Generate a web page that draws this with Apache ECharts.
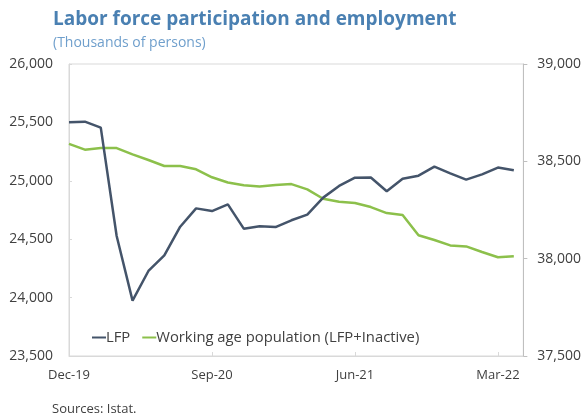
<!DOCTYPE html>
<html>
<head>
<meta charset="utf-8">
<script src="https://cdn.jsdelivr.net/npm/echarts@6/dist/echarts.min.js"></script>
<style>
  html, body { margin: 0; padding: 0; background: #ffffff; }
  #chart { width: 584px; height: 418px; }
</style>
</head>
<body>
<div id="chart"></div>
<script>
// Monthly observations, Dec-19 .. Apr-22
const months = [
  'Dec-19', 'Jan-20', 'Feb-20', 'Mar-20', 'Apr-20', 'May-20', 'Jun-20', 'Jul-20', 'Aug-20',
  'Sep-20', 'Oct-20', 'Nov-20', 'Dec-20', 'Jan-21', 'Feb-21', 'Mar-21', 'Apr-21', 'May-21',
  'Jun-21', 'Jul-21', 'Aug-21', 'Sep-21', 'Oct-21', 'Nov-21', 'Dec-21', 'Jan-22', 'Feb-22',
  'Mar-22', 'Apr-22'
];

// Labour force (left axis, thousands)
const lfp = [
  25501, 25506, 25455, 24527, 23974, 24228, 24362, 24607, 24764,
  24741, 24798, 24590, 24610, 24604, 24662, 24710, 24856, 24956,
  25027, 25028, 24910, 25018, 25044, 25121, 25064, 25010, 25055,
  25113, 25090
];

// Working age population, LFP + inactive (right axis, thousands)
const workingAge = [
  38590, 38560, 38568, 38568, 38536, 38507, 38476, 38476, 38459,
  38418, 38391, 38377, 38371, 38378, 38383, 38356, 38308, 38292,
  38286, 38265, 38234, 38224, 38120, 38096, 38068, 38063, 38034,
  38007, 38012
];

const leftTicks = { min: 23500, max: 26000, step: 500 };
const rightTicks = { min: 37500, max: 39000, step: 500 };

const FONT = '"Open Sans", "Noto Sans", sans-serif';
const AXIS_GRAY = '#d9d9d9';
const TEXT = '#404040';

const fmtThousands = v => v.toLocaleString('en-US');

const chart = echarts.init(document.getElementById('chart'), null, { renderer: 'canvas' });

chart.setOption({
  animation: false,
  backgroundColor: '#ffffff',
  textStyle: { fontFamily: FONT },
  title: [
    {
      text: 'Labor force participation and employment',
      left: 48, top: 5,
      textStyle: { fontFamily: FONT, fontSize: 19, fontWeight: 'bold', color: '#4a80b2' }
    },
    {
      text: '(Thousands of persons)',
      left: 48, top: 31,
      textStyle: { fontFamily: FONT, fontSize: 14, fontWeight: 'normal', color: '#6f9fcc' }
    },
    {
      text: 'Sources: Istat.',
      left: 47, top: 398,
      textStyle: { fontFamily: FONT, fontSize: 13, fontWeight: 'normal', color: TEXT }
    }
  ],
  grid: {
    left: 69, right: 59, top: 64, bottom: 62,
    show: true, borderColor: AXIS_GRAY, borderWidth: 1
  },
  legend: {
    left: 87, top: 325,
    itemWidth: 14, itemHeight: 2, itemGap: 12,
    icon: 'rect',
    textStyle: { fontFamily: FONT, fontSize: 14.8, color: TEXT, padding: [0, 0, 0, -5] },
    data: ['LFP', 'Working age population (LFP+Inactive)']
  },
  xAxis: {
    type: 'value',
    min: 0, max: 28.6, interval: 9,
    axisLine: { show: true, lineStyle: { color: AXIS_GRAY } },
    axisTick: { show: true, inside: true, length: 4, lineStyle: { color: AXIS_GRAY } },
    splitLine: { show: false },
    axisLabel: {
      fontFamily: FONT, fontSize: 13, color: TEXT, margin: 13,
      showMaxLabel: false,
      formatter: v => (Number.isInteger(v) && months[v]) ? months[v] : ''
    }
  },
  yAxis: [
    {
      type: 'value', position: 'left',
      min: leftTicks.min, max: leftTicks.max, interval: leftTicks.step,
      axisLine: { show: true, lineStyle: { color: AXIS_GRAY } },
      axisTick: { show: true, inside: true, length: 3, lineStyle: { color: AXIS_GRAY } },
      splitLine: { show: false },
      axisLabel: { fontFamily: FONT, fontSize: 14, color: TEXT, margin: 16, formatter: fmtThousands }
    },
    {
      type: 'value', position: 'right',
      min: rightTicks.min, max: rightTicks.max, interval: rightTicks.step,
      axisLine: { show: true, lineStyle: { color: '#bfbfbf' } },
      axisTick: { show: true, inside: false, length: 4, lineStyle: { color: '#bfbfbf' } },
      splitLine: { show: false },
      axisLabel: { fontFamily: FONT, fontSize: 14, color: TEXT, margin: 14, formatter: fmtThousands }
    }
  ],
  series: [
    {
      name: 'LFP',
      type: 'line',
      yAxisIndex: 0,
      symbol: 'none',
      color: '#44546a',
      lineStyle: { width: 2.5, color: '#44546a' },
      data: lfp.map((v, i) => [i, v]),
      z: 3
    },
    {
      name: 'Working age population (LFP+Inactive)',
      type: 'line',
      yAxisIndex: 1,
      symbol: 'none',
      color: '#8cc04b',
      lineStyle: { width: 2.5, color: '#8cc04b' },
      data: workingAge.map((v, i) => [i, v]),
      z: 2
    }
  ]
});
</script>
</body>
</html>
